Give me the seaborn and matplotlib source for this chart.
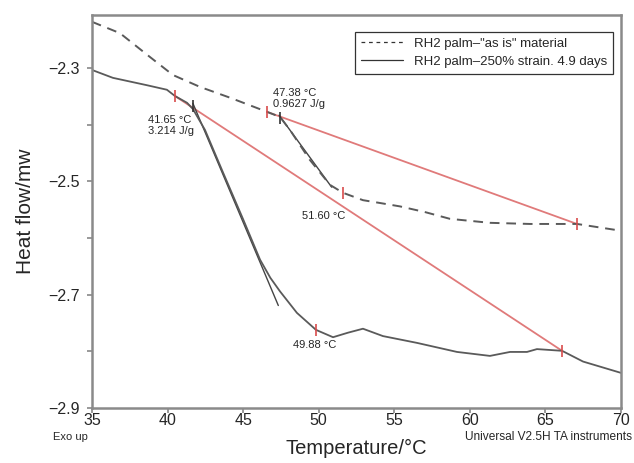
import numpy as np
import pandas as pd
import matplotlib
matplotlib.use("Agg")
import matplotlib.pyplot as plt
from matplotlib.lines import Line2D
import seaborn as sns

# DSC traces
asis_temp = [35.0, 36.85, 38.64, 40.36, 42.15, 44.13, 46.58, 47.44, 48.10, 49.42,
             50.75, 51.61, 52.93, 54.06, 55.38, 57.03, 58.69, 61.33, 63.98, 67.09, 70.0]
asis_flow = [-2.218, -2.238, -2.276, -2.312, -2.333, -2.352, -2.377, -2.386, -2.409, -2.462,
             -2.506, -2.520, -2.533, -2.538, -2.544, -2.554, -2.566, -2.573, -2.575, -2.575, -2.587]

strain_temp = [35.0, 36.39, 38.64, 39.96, 40.49, 41.29, 41.68, 42.48, 43.67, 44.99, 46.12,
               46.80, 47.44, 48.56, 49.82, 50.95, 51.94, 52.93, 54.25, 56.50, 59.15, 61.33,
               62.66, 63.78, 64.44, 66.10, 67.49, 70.0]
strain_flow = [-2.303, -2.317, -2.330, -2.338, -2.349, -2.361, -2.372, -2.409, -2.484, -2.566,
               -2.638, -2.670, -2.694, -2.732, -2.762, -2.775, -2.767, -2.760, -2.773, -2.785,
               -2.801, -2.808, -2.801, -2.801, -2.796, -2.799, -2.818, -2.838]

# baselines (red) and onset tangents (black)
asis_base_t = [46.58, 67.09]
asis_base_f = [-2.377, -2.575]
strain_base_t = [40.49, 66.10]
strain_base_f = [-2.349, -2.799]
asis_tan_t = [47.38, 50.86]
asis_tan_f = [-2.383, -2.510]
strain_tan_t = [41.68, 47.33]
strain_tan_f = [-2.362, -2.719]

# peak / onset markers
peak_t = [51.61, 49.82]
peak_f = [-2.520, -2.762]
onset_t = [41.68, 47.44]
onset_f = [-2.366, -2.388]

yticks = [-2.9, -2.8, -2.7, -2.6, -2.5, -2.4, -2.3]
ytick_labels = ['\u22122.9', '', '\u22122.7', '', '\u22122.5', '', '\u22122.3']
xticks = [35, 40, 45, 50, 55, 60, 65, 70]

sns.set_style('white')
plt.rcParams['font.family'] = ['Liberation Sans', 'DejaVu Sans']

fig = plt.figure(figsize=(6.34, 4.63), dpi=100)
ax = fig.add_axes([0.145, 0.1188, 0.8345, 0.8488])

curve_col = '#5a5a5a'
red = '#e07a7a'

sns.lineplot(x=strain_base_t, y=strain_base_f, ax=ax, color=red, lw=1.3)
sns.lineplot(x=asis_base_t, y=asis_base_f, ax=ax, color=red, lw=1.3)
sns.lineplot(x=asis_tan_t, y=asis_tan_f, ax=ax, color='#444444', lw=1.0)
sns.lineplot(x=strain_tan_t, y=strain_tan_f, ax=ax, color='#444444', lw=1.0)

sns.lineplot(x=asis_temp, y=asis_flow, ax=ax, color=curve_col, lw=1.4,
             linestyle=(0, (5, 3.5)), sort=False)
sns.lineplot(x=strain_temp, y=strain_flow, ax=ax, color=curve_col, lw=1.3, sort=False)

# red tick marks at baseline ends and peaks
ax.plot(asis_base_t + strain_base_t + peak_t, asis_base_f + strain_base_f + peak_f,
        ls='none', marker='|', ms=9, mew=1.2, color='#d94c4c')
ax.plot(onset_t, onset_f, ls='none', marker='|', ms=9, mew=1.2, color='#333333')

# legend from the two traces
handles = [Line2D([], [], color='#333333', lw=0.9, linestyle=(0, (3, 3))),
           Line2D([], [], color='#333333', lw=0.9)]
leg = ax.legend(handles, ['RH2 palm\u2013"as is" material', 'RH2 palm\u2013250% strain. 4.9 days'],
                loc='upper right', bbox_to_anchor=(0.985, 0.957), borderaxespad=0,
                fontsize=9.5, frameon=True, fancybox=False, handlelength=3.2,
                borderpad=0.45, labelspacing=0.4, handletextpad=0.8)
leg.get_frame().set_edgecolor('black')
leg.get_frame().set_linewidth(0.9)

# annotations
fs = 8
ax.text(38.71, -2.383, '41.65 \u00b0C\n3.214 J/g', fontsize=fs, va='top', ha='left', linespacing=1.1)
ax.text(46.98, -2.335, '47.38 \u00b0C\n0.9627 J/g', fontsize=fs, va='top', ha='left', linespacing=1.1)
ax.text(48.9, -2.561, '51.60 \u00b0C', fontsize=fs, va='center', ha='left')
ax.text(48.28, -2.789, '49.88 \u00b0C', fontsize=fs, va='center', ha='left')

ax.set_xlim(35, 70)
ax.set_ylim(-2.9, -2.206)
ax.set_xticks(xticks)
ax.set_xticklabels([str(t) for t in xticks])
ax.set_yticks(yticks)
ax.set_yticklabels(ytick_labels)
ax.tick_params(axis='both', direction='out', length=3.5, width=1.2, color='#888888',
               labelsize=11.5, left=True, bottom=True)
ax.tick_params(axis='x', pad=0.2)
ax.tick_params(axis='y', pad=5)

for s in ax.spines.values():
    s.set_color('#8a8a8a')
    s.set_linewidth(1.8)

ax.set_xlabel('Temperature/\u00b0C', fontsize=14.5, labelpad=8)
ax.set_ylabel('Heat flow/mw', fontsize=15, labelpad=10)

fig.text(70 / 634, 1 - 437 / 463, 'Exo up', fontsize=8, ha='center', va='center')
fig.text(632 / 634, 1 - 437 / 463, 'Universal V2.5H TA instruments', fontsize=8.6,
         ha='right', va='center')

fig.savefig('out.png', dpi=100)
